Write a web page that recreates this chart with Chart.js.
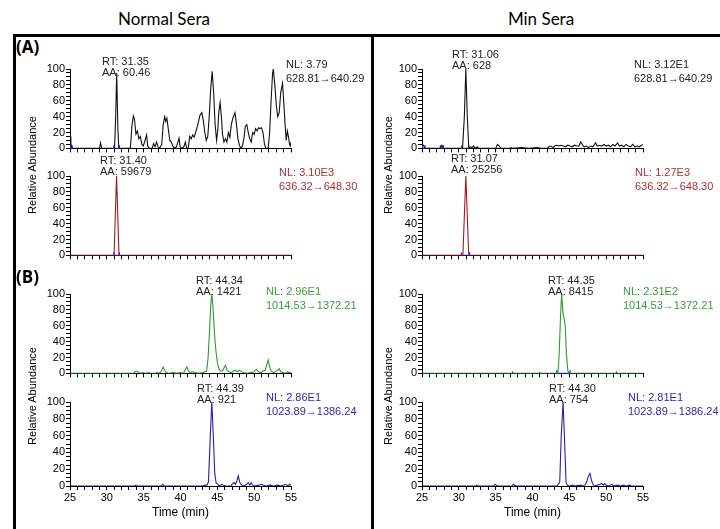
<!DOCTYPE html>
<html>
<head>
<meta charset="utf-8">
<script src="https://cdn.jsdelivr.net/npm/chart.js@4.4.0/dist/chart.umd.min.js"></script>
<style>
  body { margin: 0; background: #fff; width: 720px; height: 529px; overflow: hidden; position: relative; font-family: "Liberation Sans", Arial, sans-serif; }
  .rule { position: absolute; background: #000; }
  .hdr { position: absolute; font-family: Lato, "Open Sans", sans-serif; font-size: 17px; color: #000; transform: translate(-50%, -50%); white-space: nowrap; }
  .tag { position: absolute; font-family: "Open Sans", sans-serif; font-weight: bold; font-size: 17px; color: #000; }
  .ann { position: absolute; font-size: 11px; line-height: 11px; white-space: nowrap; color: #222; }
  .nl { position: absolute; font-size: 11px; line-height: 14px; white-space: nowrap; }
  .ytitle { position: absolute; font-size: 11px; white-space: nowrap; color: #000; transform: translate(-50%, -50%) rotate(-90deg); }
  canvas { position: absolute; }
</style>
</head>
<body>

<script>
// retention time axis (min) and relative abundance (%) per trace

// Normal sera, 628.81 -> 640.29
const timeNormal628 = [25.0, 25.12, 25.25, 29.0, 29.15, 29.3, 31.05, 31.2, 31.34, 31.5, 31.62, 33.2, 33.4, 33.6, 33.75, 33.95, 34.15, 34.35, 34.55, 34.75, 34.95, 35.15, 35.4, 35.55, 35.75, 36.15, 36.35, 36.55, 36.75, 36.95, 37.15, 37.45, 37.65, 37.85, 38.0, 38.15, 38.35, 38.55, 38.75, 38.95, 39.15, 39.45, 39.8, 39.95, 40.15, 40.45, 40.65, 40.85, 41.05, 41.25, 41.45, 41.65, 41.85, 42.05, 42.35, 42.65, 42.9, 43.1, 43.3, 43.5, 43.7, 43.9, 44.1, 44.3, 44.5, 44.7, 44.9, 45.05, 45.2, 45.38, 45.55, 45.7, 45.9, 46.1, 46.3, 46.5, 46.7, 46.9, 47.1, 47.4, 47.6, 47.8, 48.0, 48.2, 48.4, 48.6, 48.8, 49.0, 49.2, 49.4, 49.6, 49.8, 50.0, 50.2, 50.4, 50.6, 50.8, 51.0, 51.2, 51.4, 51.6, 51.9, 52.1, 52.3, 52.5, 52.6, 52.8, 53.0, 53.2, 53.4, 53.6, 53.85, 54.0, 54.2, 54.35, 54.5, 54.65, 54.8, 54.9, 55.0];
const relNormal628 = [15, 6, 0, 0, 7, 0, 0, 40, 95, 25, 0, 0, 28, 41, 37, 18, 22, 12, 15, 5, 3, 9, 17, 3, 0, 0, 6, 2, 8, 2, 0, 5, 30, 40, 34, 38, 24, 10, 8, 3, 0, 2, 13, 2, 0, 2, 8, 0, 0, 15, 12, 17, 14, 20, 30, 42, 45, 35, 20, 10, 15, 40, 75, 97, 70, 30, 10, 22, 45, 58, 40, 18, 8, 12, 8, 20, 14, 30, 38, 45, 30, 12, 4, 0, 3, 12, 28, 30, 20, 12, 8, 20, 18, 25, 22, 26, 25, 26, 20, 5, 0, 0, 20, 60, 95, 100, 80, 55, 40, 45, 70, 82, 60, 30, 10, 22, 15, 5, 3, 8];

// Normal sera, 636.32 -> 648.30
const timeNormal636 = [25.0, 30.98, 31.32, 31.65, 55.0];
const relNormal636 = [0, 0, 100, 0, 0];

// Min sera, 628.81 -> 640.29
const timeMin628 = [25.0, 25.2, 25.4, 27.5, 27.7, 27.9, 30.5, 30.75, 30.95, 31.15, 31.35, 31.6, 31.8, 32.0, 32.2, 32.5, 32.7, 35.0, 35.25, 35.5, 35.7, 37.0, 37.1, 37.2, 38.5, 39.5, 40.6, 41.2, 42.0, 42.2, 42.5, 42.8, 43.0, 43.3, 43.6, 43.9, 44.2, 44.5, 44.8, 45.1, 45.4, 45.7, 46.0, 46.3, 46.55, 46.8, 47.0, 47.3, 47.6, 47.9, 48.2, 48.55, 48.8, 49.1, 49.4, 49.7, 50.0, 50.3, 50.6, 50.9, 51.2, 51.55, 51.8, 52.1, 52.4, 52.7, 53.0, 53.3, 53.6, 53.9, 54.2, 54.5, 54.8, 55.0];
const relMin628 = [3, 4, 0, 0, 4, 0, 0, 40, 100, 40, 0, 2, 1, 3, 0, 2, 0, 0, 5, 3, 0, 0, 1, 0, 1, 0, 1, 0, 0, 2, 3, 1, 3, 4, 3, 4, 3, 2, 4, 3, 2, 4, 3, 3, 8, 4, 2, 3, 1, 3, 2, 7, 3, 4, 3, 5, 3, 4, 2, 5, 3, 7, 3, 4, 2, 5, 3, 2, 5, 2, 3, 2, 4, 5];

// Min sera, 636.32 -> 648.30
const timeMin636 = [25.0, 30.55, 30.95, 31.35, 55.0];
const relMin636 = [0, 0, 100, 0, 0];

// Normal sera, 1014.53 -> 1372.21
const timeNormal1014 = [25.0, 33.6, 33.8, 34.0, 34.2, 34.4, 34.6, 35.0, 35.3, 35.7, 36.0, 36.5, 36.8, 37.1, 37.4, 37.65, 37.9, 38.1, 38.4, 39.0, 39.5, 40.0, 40.4, 40.6, 40.85, 41.1, 41.3, 41.6, 42.0, 42.5, 43.0, 43.3, 43.55, 43.75, 43.95, 44.1, 44.25, 44.4, 44.55, 44.7, 44.85, 45.0, 45.2, 45.4, 45.7, 45.9, 46.1, 46.35, 46.6, 46.9, 47.2, 47.45, 47.7, 47.95, 48.2, 48.5, 49.0, 49.5, 50.0, 50.3, 50.6, 50.9, 51.2, 51.5, 51.75, 51.9, 52.1, 52.3, 52.6, 52.9, 53.2, 53.4, 53.6, 53.9, 54.2, 54.5, 54.7, 55.0];
const relNormal1014 = [0, 0, 2, 3, 2, 1, 0, 1, 0, 1, 0, 0, 1, 0, 3, 8, 3, 1, 0, 1, 0, 1, 0, 4, 8, 3, 1, 2, 1, 0, 1, 2, 3, 20, 55, 85, 100, 85, 60, 40, 25, 14, 6, 3, 3, 7, 10, 4, 2, 1, 3, 4, 2, 4, 3, 1, 0, 1, 2, 5, 2, 1, 3, 4, 12, 17, 8, 3, 1, 2, 4, 6, 2, 1, 0, 2, 1, 1];

// Normal sera, 1023.89 -> 1386.24
const timeNormal1023 = [25.0, 33.8, 33.95, 34.1, 37.4, 37.6, 37.8, 43.0, 43.3, 43.6, 43.8, 44.0, 44.25, 44.45, 44.65, 44.85, 45.1, 45.3, 45.6, 45.8, 46.2, 46.8, 47.0, 47.25, 47.45, 47.65, 47.85, 48.05, 48.3, 48.6, 49.0, 49.2, 49.4, 49.6, 49.8, 50.1, 50.6, 51.0, 51.3, 51.6, 52.2, 52.6, 53.2, 53.6, 54.3, 54.6, 54.8, 55.0];
const relNormal1023 = [0, 0, 1, 0, 0, 2, 0, 0, 1, 1, 5, 50, 100, 60, 15, 3, 2, 0, 2, 1, 0, 0, 2, 4, 2, 6, 12, 4, 1, 0, 2, 4, 1, 4, 1, 0, 1, 2, 1, 0, 1, 0, 1, 0, 2, 0, 2, 1];

// Min sera, 1014.53 -> 1372.21
const timeMin1014 = [25.0, 37.2, 37.3, 37.4, 40.9, 41.0, 41.1, 43.45, 43.6, 43.8, 43.95, 44.15, 44.3, 44.45, 44.6, 44.8, 45.0, 51.3, 51.4, 51.5, 55.0];
const relMin1014 = [0, 0, 2, 0, 0, 1, 0, 0, 20, 70, 100, 75, 68, 60, 25, 3, 0, 0, 2, 0, 0];

// Min sera, 1023.89 -> 1386.24
const timeMin1023 = [25.0, 32.3, 32.45, 32.6, 34.7, 34.9, 35.1, 35.3, 37.2, 37.4, 37.6, 37.8, 43.3, 43.5, 43.7, 43.9, 44.15, 44.35, 44.55, 44.7, 44.9, 45.5, 45.7, 46.5, 46.8, 47.1, 47.35, 47.6, 47.8, 48.0, 48.2, 48.4, 49.2, 49.4, 49.6, 49.8, 50.0, 50.3, 50.8, 51.0, 51.6, 51.8, 52.4, 52.6, 53.2, 53.4, 55.0];
const relMin1023 = [0, 0, 1, 0, 0, 2, 1, 0, 0, 2, 1, 0, 0, 2, 5, 60, 100, 55, 5, 1, 0, 1, 0, 1, 0, 1, 5, 12, 15, 7, 2, 0, 2, 3, 1, 3, 1, 0, 2, 0, 1, 0, 1, 0, 1, 0, 0];

// peak integration boundaries (start, end) in min
const markNormal628 = [[25.05, 25.3], [30.95, 31.7]];
const markNormal636 = [[30.95, 31.7]];
const markMin628 = [[25.05, 25.4], [27.5, 27.9], [30.4, 31.35]];
const markMin636 = [[30.35, 31.45]];
const markMin1014 = [[43.3, 45.1]];

const xTicksMajor = [25, 30, 35, 40, 45, 50, 55];
const yTicksMajor = [0, 20, 40, 60, 80, 100];

Chart.defaults.font.family = '"Liberation Sans", Arial, sans-serif';
Chart.defaults.font.size = 11;
Chart.defaults.color = '#000';

function toPoints(times, values) {
  return times.map((t, i) => ({ x: t, y: values[i] }));
}

function markPoints(pairs) {
  const pts = [];
  pairs.forEach(([a, b]) => {
    pts.push({ x: a, y: 4 }, { x: a, y: 0 }, { x: b, y: 0 }, { x: b, y: 4 }, { x: b, y: null });
  });
  return pts;
}

const PLOT_W = 221, PLOT_H = 84, Y_W = 40, PAD_T = 8, PAD_R = 14;

function makePanel(p) {
  const cv = document.createElement('canvas');
  const h = PAD_T + PLOT_H + (p.xAxis ? 38 : 3);
  const w = Y_W + PLOT_W + PAD_R;
  cv.width = w; cv.height = h;
  cv.style.left = (p.left - Y_W) + 'px';
  cv.style.top = (p.top - PAD_T) + 'px';
  cv.style.width = w + 'px';
  cv.style.height = h + 'px';
  document.body.appendChild(cv);

  new Chart(cv, {
    type: 'line',
    data: {
      datasets: [
        { data: toPoints(p.t, p.v), borderColor: p.color, borderWidth: 1.1, pointRadius: 0, tension: 0 },
        { data: markPoints(p.marks || []), borderColor: '#2030ff', borderWidth: 1.3, pointRadius: 0, spanGaps: false }
      ]
    },
    options: {
      responsive: false,
      animation: false,
      events: [],
      layout: { padding: { top: PAD_T, right: PAD_R, bottom: p.xAxis ? 0 : 3, left: 0 } },
      plugins: { legend: { display: false }, tooltip: { enabled: false } },
      scales: {
        x: {
          type: 'linear', min: 25, max: 55,
          afterFit: s => { s.height = p.xAxis ? 38 : 0; },
          border: { color: '#000', width: 1 },
          grid: { display: p.xAxis, drawOnChartArea: false, color: '#000', tickLength: 4 },
          ticks: {
            display: p.xAxis, stepSize: 1, autoSkip: false, maxRotation: 0, padding: 1,
            callback: v => xTicksMajor.includes(v) ? v : ''
          },
          title: { display: p.xAxis, text: 'Time (min)', font: { size: 12 }, color: '#000', padding: { top: 0, bottom: 4 } }
        },
        y: {
          min: 0, max: 100,
          afterFit: s => { s.width = Y_W; },
          border: { color: '#000', width: 1 },
          grid: { drawOnChartArea: false, color: '#000', tickLength: 4 },
          ticks: { stepSize: 5, autoSkip: false, padding: 1, callback: v => yTicksMajor.includes(v) ? v : '' }
        }
      }
    }
  });
}

const BLACK = '#111', RED = '#9e1b1b', GREEN = '#2f9a2f', BLUE = '#2323a3';

[
  { left: 70,  top: 69,  t: timeNormal628,  v: relNormal628,  color: BLACK, marks: markNormal628 },
  { left: 70,  top: 176, t: timeNormal636,  v: relNormal636,  color: RED,   marks: markNormal636 },
  { left: 70,  top: 294, t: timeNormal1014, v: relNormal1014, color: GREEN },
  { left: 70,  top: 402, t: timeNormal1023, v: relNormal1023, color: BLUE,  xAxis: true },
  { left: 422, top: 69,  t: timeMin628,     v: relMin628,     color: BLACK, marks: markMin628 },
  { left: 422, top: 176, t: timeMin636,     v: relMin636,     color: RED,   marks: markMin636 },
  { left: 422, top: 294, t: timeMin1014,    v: relMin1014,    color: GREEN, marks: markMin1014 },
  { left: 422, top: 402, t: timeMin1023,    v: relMin1023,    color: BLUE,  xAxis: true }
].forEach(makePanel);
</script>

<!-- frame -->
<div class="rule" style="left:13px;top:34px;width:707px;height:3px"></div>
<div class="rule" style="left:13px;top:34px;width:3px;height:495px"></div>
<div class="rule" style="left:371px;top:34px;width:3px;height:495px"></div>

<div class="hdr" style="left:164px;top:18px">Normal Sera</div>
<div class="hdr" style="left:541px;top:18px">Min Sera</div>
<div class="tag" style="left:16px;top:35px">(A)</div>
<div class="tag" style="left:16px;top:265px">(B)</div>

<div class="ytitle" style="left:32px;top:165px">Relative Abundance</div>
<div class="ytitle" style="left:32px;top:396px">Relative Abundance</div>
<div class="ytitle" style="left:388px;top:165px">Relative Abundance</div>
<div class="ytitle" style="left:388px;top:396px">Relative Abundance</div>

<!-- normal sera annotations -->
<div class="ann" style="left:102px;top:56px">RT: 31.35<br>AA: 60.46</div>
<div class="nl" style="left:286px;top:57px;color:#222">NL: 3.79<br>628.81→640.29</div>
<div class="ann" style="left:100px;top:155px">RT: 31.40<br>AA: 59679</div>
<div class="nl" style="left:279px;top:165px;color:#a83232">NL: 3.10E3<br>636.32→648.30</div>
<div class="ann" style="left:196px;top:275px">RT: 44.34<br>AA: 1421</div>
<div class="nl" style="left:266px;top:284px;color:#3a9a3a">NL: 2.96E1<br>1014.53→1372.21</div>
<div class="ann" style="left:197px;top:383px">RT: 44.39<br>AA: 921</div>
<div class="nl" style="left:266px;top:390px;color:#2b2ba8">NL: 2.86E1<br>1023.89→1386.24</div>

<!-- min sera annotations -->
<div class="ann" style="left:452px;top:49px">RT: 31.06<br>AA: 628</div>
<div class="nl" style="left:634px;top:57px;color:#222">NL: 3.12E1<br>628.81→640.29</div>
<div class="ann" style="left:451px;top:153px">RT: 31.07<br>AA: 25256</div>
<div class="nl" style="left:635px;top:165px;color:#a83232">NL: 1.27E3<br>636.32→648.30</div>
<div class="ann" style="left:548px;top:275px">RT: 44.35<br>AA: 8415</div>
<div class="nl" style="left:623px;top:284px;color:#3a9a3a">NL: 2.31E2<br>1014.53→1372.21</div>
<div class="ann" style="left:549px;top:383px">RT: 44.30<br>AA: 754</div>
<div class="nl" style="left:628px;top:390px;color:#2b2ba8">NL: 2.81E1<br>1023.89→1386.24</div>

</body>
</html>
